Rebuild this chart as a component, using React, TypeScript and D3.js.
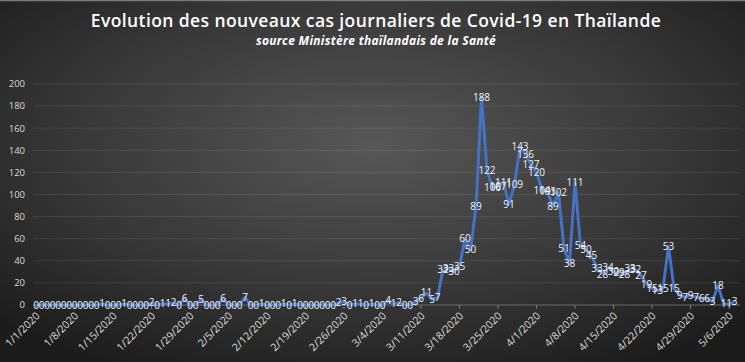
import React from 'react';
import * as d3 from 'd3';

const TITLE = 'Evolution des nouveaux cas journaliers de Covid-19 en Thaïlande';
const SUBTITLE = 'source Ministère thaïlandais de la Santé';

const START_DATE = new Date(2020, 0, 1);

// daily new cases, 1/1/2020 .. 5/7/2020
const janValues = [0,0,0,0,0,0,0,0,0,0,0,0,1,0,0,0,1,0,0,0,0,2,0,1,1,2,0,6,0,0,5];
const febValues = [0,0,0,6,0,0,0,7,0,0,1,0,0,0,1,0,1,0,0,0,0,0,0,0,2,3,0,1,1];
const marValues = [0,1,0,0,4,1,2,0,0,3,6,11,5,7,32,33,30,35,60,50,89,188,122,106,107,111,91,109,143,136,127];
const aprValues = [120,104,103,89,102,51,38,111,54,50,45,33,28,34,30,29,28,33,32,27,19,15,13,15,53,15,9,7,9,7];
const mayValues = [6,6,3,18,1,1,3];

const values = [...janValues, ...febValues, ...marValues, ...aprValues, ...mayValues];

const yTicks = [0, 20, 40, 60, 80, 100, 120, 140, 160, 180, 200];
const xTickLabels = ['1/1/2020','1/8/2020','1/15/2020','1/22/2020','1/29/2020','2/5/2020','2/12/2020','2/19/2020','2/26/2020','3/4/2020','3/11/2020','3/18/2020','3/25/2020','4/1/2020','4/8/2020','4/15/2020','4/22/2020','4/29/2020','5/6/2020'];

export default function App() {
  const W = 745, H = 362;
  const dates = values.map((_, i) => d3.timeDay.offset(START_DATE, i));
  const x = d3.scaleTime().domain([dates[0], dates[dates.length - 1]]).range([36, 734.5]);
  const y = d3.scaleLinear().domain([0, 200]).range([305, 84]);
  const line = d3.line<number>().x((_, i) => x(dates[i])).y(d => y(d));
  const fmt = d3.timeFormat('%-m/%-d/%Y');
  const tickDates = xTickLabels.map(l => dates.find(dd => fmt(dd) === l)!);

  return (
    <svg width={W} height={H} style={{ position: 'absolute', left: 0, top: 0 }} fontFamily="'Open Sans', sans-serif">
      <defs>
        <radialGradient id="bg" cx="50%" cy="40%" r="70%">
          <stop offset="0%" stopColor="#575757" />
          <stop offset="60%" stopColor="#363636" />
          <stop offset="100%" stopColor="#1c1c1c" />
        </radialGradient>
      </defs>
      <rect x={0} y={0} width={W} height={H} fill="url(#bg)" />
      <line x1={0} x2={W} y1={0.5} y2={0.5} stroke="#7a7a7a" strokeWidth={1.5} />

      <text x={376} y={27} textAnchor="middle" fill="#ffffff" fontSize={17.5} fontWeight={600} letterSpacing={0.4}>{TITLE}</text>
      <text x={376} y={45} textAnchor="middle" fill="#ffffff" fontSize={12} fontWeight={700} fontStyle="italic" letterSpacing={0.3}>{SUBTITLE}</text>

      {yTicks.map(t => (
        <g key={t}>
          <line x1={33} x2={740} y1={y(t)} y2={y(t)} stroke={t === 0 ? '#6a6a6a' : '#ffffff'} strokeOpacity={t === 0 ? 1 : 0.09} strokeWidth={1} />
          <text x={25} y={y(t)} dy="0.35em" textAnchor="end" fill="#d9d9d9" fontSize={9.5}>{t}</text>
        </g>
      ))}

      {tickDates.map((d, i) => (
        <g key={i}>
          <line x1={x(d)} x2={x(d)} y1={305} y2={309} stroke="#7a7a7a" />
          <text transform={`translate(${x(d) + 2},${314}) rotate(-45)`} textAnchor="end" dy="0.35em" fill="#d9d9d9" fontSize={10.5}>{xTickLabels[i]}</text>
        </g>
      ))}

      <path d={line(values)!} fill="none" stroke="#4472C4" strokeWidth={3} strokeLinejoin="round" />

      {values.map((v, i) => (
        <text key={i} x={x(dates[i])} y={y(v)} dy="0.35em" textAnchor="middle" fill="#f2f2f2" fontSize={10}>{v}</text>
      ))}
    </svg>
  );
}
